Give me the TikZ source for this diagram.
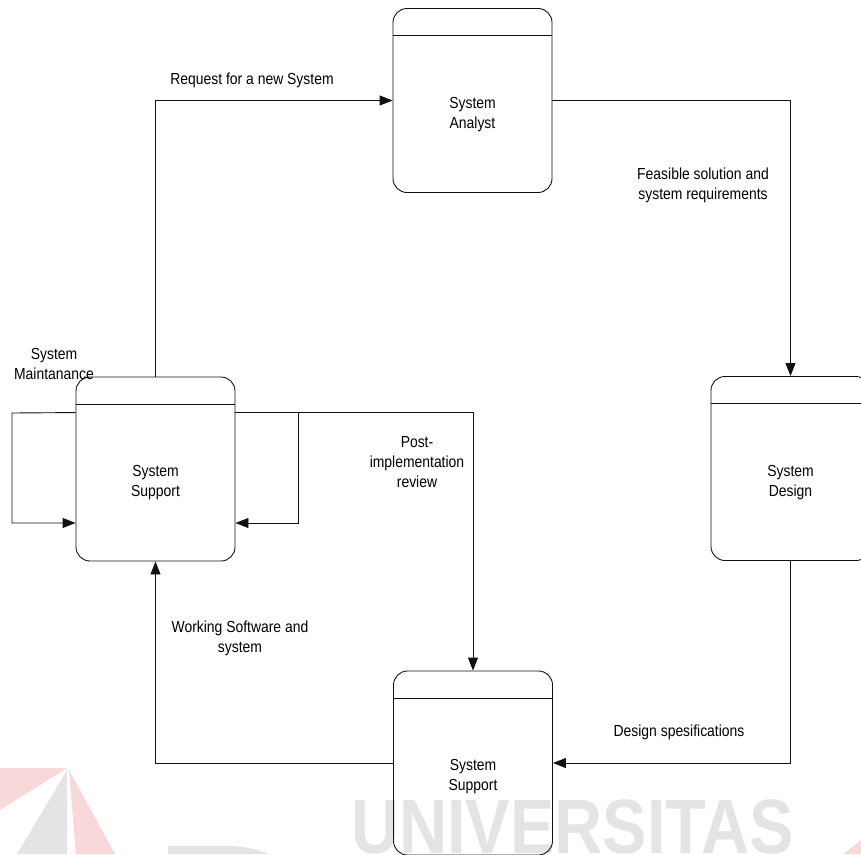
\documentclass[tikz,border=0pt]{standalone}
\usepackage{fontspec}
\setmainfont{Liberation Sans}[FakeStretch=0.87]
\newfontfamily\wmfont{Liberation Sans}[FakeStretch=0.865]
\usetikzlibrary{arrows.meta,calc}

\definecolor{wmgray}{HTML}{E4E4E4}
\definecolor{wmpink}{HTML}{F9D8DA}
\definecolor{ink}{HTML}{111111}

\tikzset{
  box/.style={draw=ink, rounded corners=14pt, minimum width=159pt,
    minimum height=184pt, inner sep=0pt, line width=0.9pt},
  hdr/.style={draw=ink, line width=0.9pt},
  lbl/.style={align=center, font=\fontsize{16}{20}\selectfont, inner sep=0pt},
  arr/.style={draw=ink, line width=0.9pt,
    -{Triangle[length=13pt,width=10pt]}},
}

\begin{document}
\begin{tikzpicture}[x=1pt,y=-1pt]
\useasboundingbox (0,0) rectangle (861,854);

% faint watermark behind the chart
\fill[wmpink] (0,768) -- (67,768) -- (0,810) -- cycle;
\fill[wmgray] (67,770) -- (17,854) -- (67,854) -- cycle;
\fill[wmpink] (69,770) -- (76,854) -- (115,854) -- cycle;
\fill[wmgray] (168,854) -- (168,846) -- (225,846)
  .. controls (245,846) and (258,849) .. (268,854) -- cycle;
\fill[wmpink] (843,854) -- (861,840) -- (861,854) -- cycle;
\node[anchor=base west, inner sep=0pt, text=wmgray,
  font=\wmfont\bfseries\fontsize{77}{77}\selectfont] (wm) at (351,853) {UNIVERSITAS};

% process boxes
\node[box] (sa) at (472.5,100.5) {};
\node[box] (ss) at (155.5,469) {};
\node[box] (sd) at (790.5,468.5) {};
\node[box] (sb) at (473,763) {};

% header bands
\foreach \b in {sa,ss,sd,sb}{
  \draw[hdr] ($(\b.north west)+(0,27.5)$) -- ($(\b.north east)+(0,27.5)$);
}

% box titles, centred in the body below the header
\node[lbl] (sa-t) at ($(sa.center)+(0,14)$) {System\\Analyst};
\node[lbl] (ss-t) at ($(ss.center)+(0,14)$) {System\\Support};
\node[lbl] (sd-t) at ($(sd.center)+(0,14)$) {System\\Design};
\node[lbl] (sb-t) at ($(sb.center)+(0,14)$) {System\\Support};

% flows around the cycle
\draw[arr] (ss.north) |- (sa.west);
\draw[arr] (sa.east) -| (sd.north);
\draw[arr] (sd.south) |- (sb.east);
\draw[arr] (sb.west) -| (ss.south);

% post-implementation review and the maintenance loops
\coordinate (ssr) at ($(ss.north east)+(0,36)$);
\coordinate (ssl) at ($(ss.north west)+(0,36)$);
\coordinate (rloop) at (298,413);
\coordinate (lloop) at (12,413);
\draw[arr] (ssr) -| (sb.north);
\draw[arr] (rloop) |- ($(ss.east)+(0,54)$);
\draw[arr] (ssl) -- (lloop) |- ($(ss.west)+(0,54)$);

% flow labels
\node[lbl] (l-req) at (252,80) {Request for a new System};
\node[lbl] (l-fea) at (703,185) {Feasible solution and\\system requirements};
\node[lbl] (l-des) at (679,732) {Design spesifications};
\node[lbl] (l-wrk) at (240,638) {Working Software and\\system};
\node[lbl] (l-pir) at (417,462) {Post-\\implementation\\review};
\node[lbl] (l-mnt) at (54,364) {System\\Maintanance};
\end{tikzpicture}
\end{document}
